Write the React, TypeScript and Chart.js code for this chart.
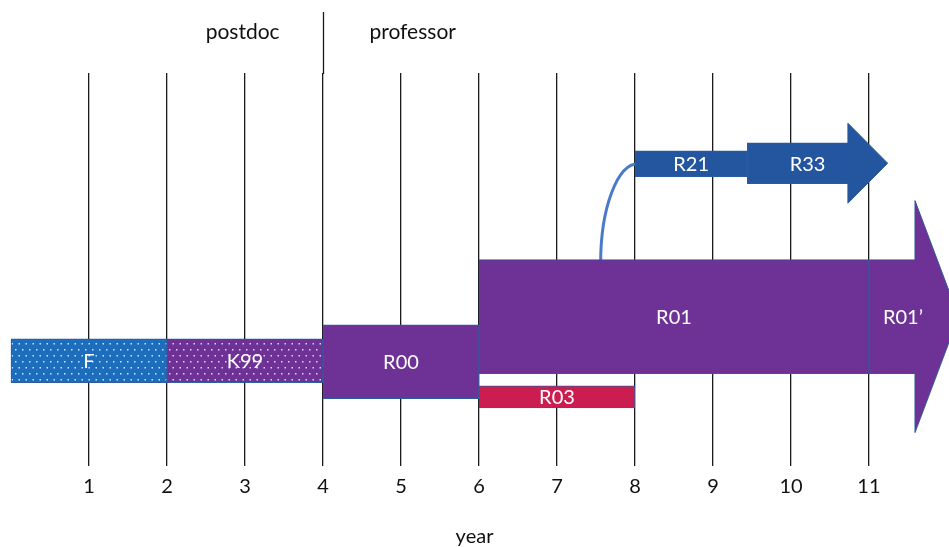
import { useEffect, useRef } from 'react';
import { Chart, registerables } from 'chart.js';

Chart.register(...registerables);

// ---------- data ----------
const grants = ['F', 'K99', 'R00', 'R01', 'R01\u2019', 'R03', 'R21', 'R33'];
const startYears = [0, 2, 4, 6, 11, 6, 8, 9.44];
const endYears = [2, 4, 6, 11, 11.59, 8, 9.44, 10.73];
const arrowTipYears: (number | null)[] = [null, null, null, null, 12.15, null, null, 11.24];
const yearTicks = [1, 2, 3, 4, 5, 6, 7, 8, 9, 10, 11];
const tickLabels = ['1', '2', '3', '4', '5', '6', '7', '8', '9', '10', '11'];
const phaseLabels = ['postdoc', 'professor'];
const phaseLabelYears = [2.97, 5.15];
const phaseBoundaryYear = 4;
const connectorFromYear = 7.56; // R01 -> R21 link
const connectorFrom = 'R01';
const connectorTo = 'R21';
const axisTitle = 'year';

// ---------- styling / layout ----------
const FONT = 'Lato, "Noto Sans", "DejaVu Sans", sans-serif';
const W = 949;
const H = 547;
const laneCenter = [287, 287, 288, 243, 243, 323, 90.5, 90]; // y-axis units (px below plot top)
const barPx = [44, 44, 74, 114, 114, 22, 26, 41];
const headHalfPx = [0, 0, 0, 0, 116, 0, 0, 40];
const PURPLE = '#6e3196';
const BLUE = '#1d6dbd';
const NAVY = '#24559f';
const CRIMSON = '#cb1d4f';
const EDGE = '#2e5a9e';
const GRID = '#1a1a1a';
const LINK = '#4a7bc8';

function dotPattern(base: string): CanvasPattern | string {
  const c = document.createElement('canvas');
  c.width = 7;
  c.height = 12;
  const g = c.getContext('2d');
  if (!g) return base;
  g.fillStyle = base;
  g.fillRect(0, 0, 7, 12);
  g.fillStyle = 'rgba(255,255,255,0.8)';
  g.fillRect(1, 1, 1.5, 1.5);
  g.fillRect(4.5, 7, 1.5, 1.5);
  return g.createPattern(c, 'repeat') || base;
}

export default function App() {
  const ref = useRef<HTMLCanvasElement | null>(null);

  useEffect(() => {
    const canvas = ref.current;
    if (!canvas) return;

    const fills: (string | CanvasPattern)[] = [
      dotPattern(BLUE),
      dotPattern(PURPLE),
      PURPLE,
      PURPLE,
      PURPLE,
      CRIMSON,
      NAVY,
      NAVY,
    ];

    const labelYear = (i: number) => {
      const tip = arrowTipYears[i];
      const right = tip == null ? endYears[i] : (endYears[i] + tip) / 2;
      return (startYears[i] + right) / 2;
    };

    const overlay = {
      id: 'overlay',
      beforeDatasetsDraw(chart: any) {
        const { ctx, scales } = chart;
        const x = scales.x;
        const fi = grants.indexOf(connectorFrom);
        const ti = grants.indexOf(connectorTo);
        const fromEl = chart.getDatasetMeta(fi).data[0];
        const toEl = chart.getDatasetMeta(ti).data[0];
        if (!fromEl || !toEl) return;
        const sx = x.getPixelForValue(connectorFromYear);
        const sy = fromEl.y - fromEl.height / 2 + 3;
        const ex = toEl.base + 3;
        const ey = toEl.y;
        const k = 0.552;
        ctx.save();
        ctx.strokeStyle = LINK;
        ctx.lineWidth = 3;
        ctx.beginPath();
        ctx.moveTo(sx, sy);
        ctx.bezierCurveTo(sx, sy - k * (sy - ey), ex - k * (ex - sx), ey, ex, ey);
        ctx.stroke();
        ctx.restore();
      },
      afterDatasetsDraw(chart: any) {
        const { ctx, scales, chartArea } = chart;
        const x = scales.x;
        ctx.save();

        // phase divider extension above plot area
        const bx = Math.round(x.getPixelForValue(phaseBoundaryYear)) + 0.5;
        ctx.strokeStyle = GRID;
        ctx.lineWidth = 1.3;
        ctx.beginPath();
        ctx.moveTo(bx, chartArea.top - 61);
        ctx.lineTo(bx, chartArea.top + 1);
        ctx.stroke();

        // phase labels
        ctx.fillStyle = '#111';
        ctx.font = `21px ${FONT}`;
        ctx.textAlign = 'center';
        ctx.textBaseline = 'middle';
        phaseLabels.forEach((t, i) => {
          ctx.fillText(t, x.getPixelForValue(phaseLabelYears[i]), chartArea.top - 41);
        });

        // arrow heads
        grants.forEach((g, i) => {
          const tip = arrowTipYears[i];
          if (tip == null) return;
          const el = chart.getDatasetMeta(i).data[0];
          if (!el) return;
          const be = x.getPixelForValue(endYears[i]);
          const tx = x.getPixelForValue(tip);
          const cy = el.y;
          const half = el.height / 2;
          const hh = headHalfPx[i];
          ctx.beginPath();
          ctx.moveTo(be - 1, cy - half + 0.5);
          ctx.lineTo(be, cy - half + 0.5);
          ctx.lineTo(be, cy - hh);
          ctx.lineTo(tx, cy);
          ctx.lineTo(be, cy + hh);
          ctx.lineTo(be, cy + half - 0.5);
          ctx.lineTo(be - 1, cy + half - 0.5);
          ctx.closePath();
          ctx.fillStyle = fills[i] as any;
          ctx.fill();
          ctx.beginPath();
          ctx.moveTo(be, cy - half + 0.5);
          ctx.lineTo(be, cy - hh);
          ctx.lineTo(tx, cy);
          ctx.lineTo(be, cy + hh);
          ctx.lineTo(be, cy + half - 0.5);
          ctx.strokeStyle = EDGE;
          ctx.lineWidth = 1;
          ctx.stroke();
        });

        // bar labels
        ctx.fillStyle = '#ffffff';
        ctx.font = `20px ${FONT}`;
        ctx.textAlign = 'center';
        ctx.textBaseline = 'middle';
        grants.forEach((g, i) => {
          const el = chart.getDatasetMeta(i).data[0];
          if (!el) return;
          ctx.fillText(g, x.getPixelForValue(labelYear(i)), el.y + 1);
        });
        ctx.restore();
      },
    };

    const chart = new Chart(canvas, {
      type: 'bar',
      data: {
        datasets: grants.map((g, i) => ({
          label: g,
          data: [{ y: laneCenter[i], x: [startYears[i], endYears[i]] }],
          backgroundColor: fills[i],
          borderColor: EDGE,
          borderWidth: 1,
          borderSkipped: arrowTipYears[i] != null ? 'right' : false,
          barThickness: barPx[i],
          stack: 'lanes',
        })) as any,
      },
      options: {
        indexAxis: 'y',
        animation: false,
        responsive: false,
        events: [],
        layout: { padding: { top: 73, left: 0, right: 0, bottom: 0 } },
        plugins: {
          legend: { display: false },
          tooltip: { enabled: false },
        },
        scales: {
          x: {
            type: 'linear',
            min: -0.141,
            max: 12.026,
            stacked: false,
            afterBuildTicks: (s: any) => {
              s.ticks = yearTicks.map((v) => ({ value: v }));
            },
            ticks: {
              callback: (_v: any, idx: number) => tickLabels[idx] ?? '',
              autoSkip: false,
              maxRotation: 0,
              padding: 9,
              color: '#111',
              font: { family: FONT, size: 20 },
            },
            grid: { color: GRID, lineWidth: 1.3, drawTicks: false },
            border: { display: false },
            title: {
              display: true,
              text: axisTitle,
              color: '#111',
              font: { family: FONT, size: 20, lineHeight: 1 },
              padding: { top: 19, bottom: 0 },
            },
          },
          y: {
            type: 'linear',
            display: false,
            reverse: true,
            offset: false,
            min: 0,
            max: 392,
          },
        },
      } as any,
      plugins: [overlay],
    });

    return () => chart.destroy();
  }, []);

  return (
    <div style={{ position: 'absolute', left: 0, top: 0, width: W, height: H, background: '#fff' }}>
      <canvas ref={ref} width={W} height={H} style={{ display: 'block', width: W, height: H }} />
    </div>
  );
}
